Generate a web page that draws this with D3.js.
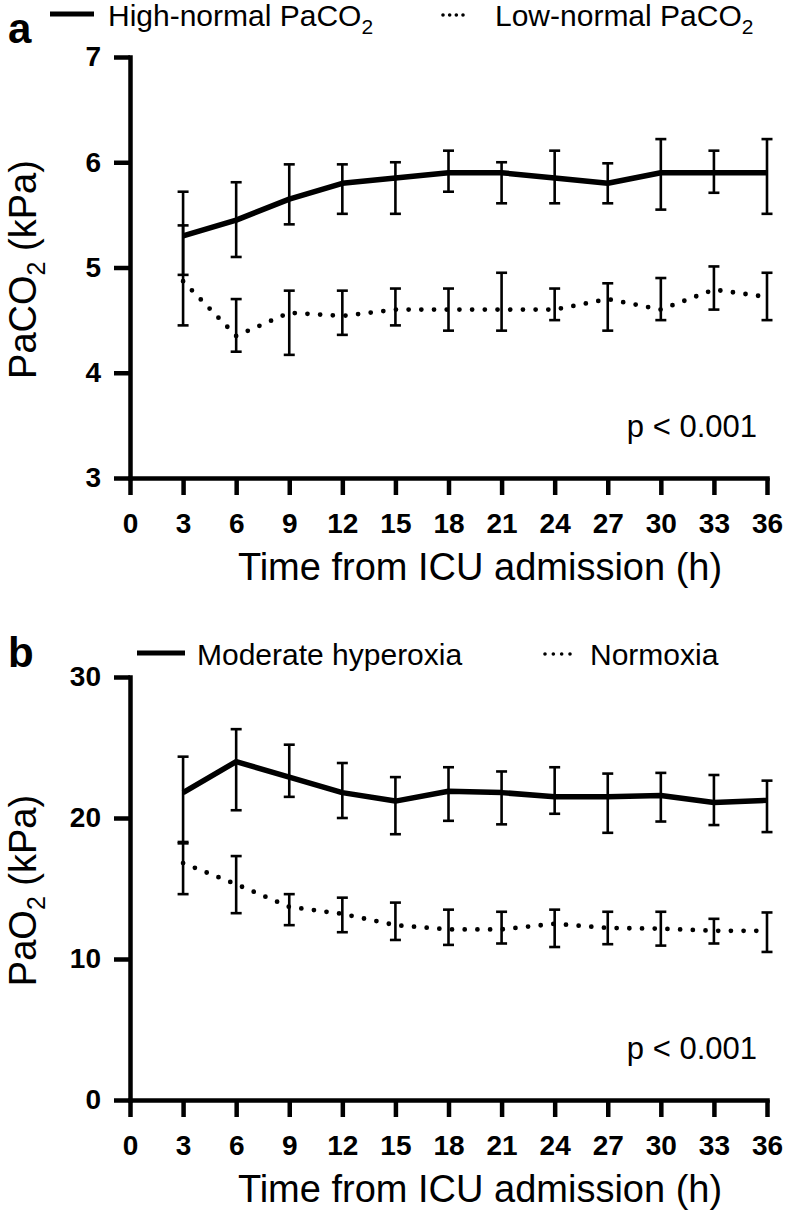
<!DOCTYPE html>
<html>
<head>
<meta charset="utf-8">
<script src="https://cdn.jsdelivr.net/npm/d3@7"></script>
<style>
  html, body { margin: 0; padding: 0; background: #fff; }
  svg { display: block; }
  text { font-family: "Liberation Sans", Arial, Helvetica, sans-serif; fill: #000; }
</style>
</head>
<body>
<svg id="chart" width="790" height="1215"></svg>
<script>
// ---------- data ----------
const hours = [3, 6, 9, 12, 15, 18, 21, 24, 27, 30, 33, 36];
const xTicks = [0, 3, 6, 9, 12, 15, 18, 21, 24, 27, 30, 33, 36];

// Panel a: PaCO2 (kPa)
const aTicks = [3, 4, 5, 6, 7];
const highNormalMean  = [5.30, 5.45, 5.65, 5.80, 5.85, 5.90, 5.90, 5.85, 5.80, 5.90, 5.90, 5.90];
const highNormalLow   = [4.93, 5.10, 5.41, 5.51, 5.51, 5.72, 5.61, 5.61, 5.61, 5.55, 5.71, 5.51];
const highNormalHigh  = [5.72, 5.81, 5.98, 5.98, 6.00, 6.11, 6.00, 6.11, 5.99, 6.22, 6.11, 6.22];
const lowNormalMean   = [4.87, 4.35, 4.57, 4.54, 4.60, 4.60, 4.60, 4.60, 4.70, 4.60, 4.79, 4.72];
const lowNormalLow    = [4.45, 4.20, 4.17, 4.36, 4.45, 4.40, 4.40, 4.50, 4.40, 4.50, 4.60, 4.50];
const lowNormalHigh   = [5.40, 4.70, 4.78, 4.78, 4.80, 4.80, 4.95, 4.80, 4.85, 4.90, 5.01, 4.95];

// Panel b: PaO2 (kPa)
const bTicks = [0, 10, 20, 30];
const hyperoxiaMean = [21.8, 24.0, 22.9, 21.8, 21.2, 21.9, 21.8, 21.5, 21.5, 21.6, 21.1, 21.25];
const hyperoxiaLow  = [18.3, 20.55, 21.5, 20.0, 18.85, 19.8, 19.55, 20.3, 18.95, 19.75, 19.5, 19.0];
const hyperoxiaHigh = [24.35, 26.3, 25.2, 23.9, 22.9, 23.6, 23.3, 23.6, 23.15, 23.2, 23.05, 22.65];
const normoxiaMean  = [16.8, 15.3, 13.7, 13.2, 12.4, 12.1, 12.1, 12.5, 12.2, 12.15, 12.0, 12.0];
const normoxiaLow   = [14.6, 13.25, 12.4, 11.9, 11.35, 11.0, 11.1, 10.85, 11.05, 10.95, 11.1, 10.5];
const normoxiaHigh  = [18.2, 17.3, 14.6, 14.35, 14.0, 13.5, 13.35, 13.5, 13.35, 13.35, 12.85, 13.3];

// ---------- drawing ----------
const svg = d3.select("#chart");
svg.append("rect").attr("width", 790).attr("height", 1215).attr("fill", "#fff");

function series(mean, lo, hi) {
  return hours.map((h, i) => ({ h, m: mean[i], lo: lo[i], hi: hi[i] }));
}

function drawPanel(cfg) {
  const g = svg.append("g");
  const x = d3.scaleLinear().domain([0, 36]).range([130, 767]);
  const y = d3.scaleLinear().domain(cfg.domain).range([cfg.bottom, cfg.top]);

  // axes
  const xAxis = g.append("g").attr("transform", `translate(0,${cfg.bottom})`)
    .call(d3.axisBottom(x).tickValues(xTicks).tickFormat(d3.format("d"))
      .tickSize(17).tickSizeOuter(0).tickPadding(18));
  const yAxis = g.append("g").attr("transform", `translate(130,0)`)
    .call(d3.axisLeft(y).tickValues(cfg.ticks).tickFormat(d3.format("d"))
      .tickSize(16).tickSizeOuter(0).tickPadding(13));
  [xAxis, yAxis].forEach(ax => {
    ax.select(".domain").attr("stroke", "#000").attr("stroke-width", 4.5).attr("stroke-linecap", "square");
    ax.selectAll(".tick line").attr("stroke", "#000").attr("stroke-width", 4.5);
    ax.selectAll(".tick text")
      .style("font-family", '"Liberation Sans", Arial, sans-serif')
      .style("font-size", "28px").style("font-weight", "bold").attr("fill", "#000");
  });

  // x label
  g.append("text").attr("x", 480).attr("y", cfg.bottom + 102)
    .attr("text-anchor", "middle").style("font-size", "38px")
    .text("Time from ICU admission (h)");

  // y label (rotated)
  const yl = g.append("text")
    .attr("transform", `translate(36,${(cfg.top + cfg.bottom) / 2 + 2}) rotate(-90)`)
    .attr("text-anchor", "middle").style("font-size", "38px");
  yl.append("tspan").text(cfg.yLabelA);
  yl.append("tspan").attr("dy", 9).style("font-size", "25px").text("2");
  yl.append("tspan").attr("dy", -9).text(" (kPa)");

  // p-value
  g.append("text").attr("x", 757).attr("y", cfg.bottom - 41)
    .attr("text-anchor", "end").style("font-size", "31px").text("p < 0.001");

  const line = d3.line().x(d => x(d.h)).y(d => y(d.m));

  function drawSeries(data, dotted) {
    const eb = g.append("g").attr("stroke", "#000").attr("stroke-width", 2.6).attr("fill", "none");
    data.forEach(d => {
      eb.append("line").attr("x1", x(d.h)).attr("x2", x(d.h)).attr("y1", y(d.lo)).attr("y2", y(d.hi));
      eb.append("line").attr("x1", x(d.h) - 5.5).attr("x2", x(d.h) + 5.5).attr("y1", y(d.lo)).attr("y2", y(d.lo));
      eb.append("line").attr("x1", x(d.h) - 5.5).attr("x2", x(d.h) + 5.5).attr("y1", y(d.hi)).attr("y2", y(d.hi));
    });
    const p = g.append("path").datum(data).attr("d", line).attr("fill", "none").attr("stroke", "#000");
    if (dotted) {
      p.attr("stroke-width", 4.8).attr("stroke-linecap", "round").attr("stroke-dasharray", "0 12.7");
    } else {
      p.attr("stroke-width", 5.5).attr("stroke-linejoin", "round");
    }
  }
  drawSeries(cfg.solid, false);
  drawSeries(cfg.dotted, true);

  // panel letter
  g.append("text").attr("x", 8).attr("y", cfg.letterY).style("font-size", "42px")
    .style("font-weight", "bold").text(cfg.letter);

  // legend
  const lg = g.append("g");
  lg.append("line").attr("x1", cfg.leg.s1).attr("x2", cfg.leg.s2)
    .attr("y1", cfg.leg.y).attr("y2", cfg.leg.y).attr("stroke", "#000").attr("stroke-width", 5);
  const t1 = lg.append("text").attr("x", cfg.leg.t1).attr("y", cfg.leg.y + 12).style("font-size", "30px");
  cfg.leg.label1.forEach(part => {
    if (part.sub) t1.append("tspan").attr("dy", 8).style("font-size", "21px").text(part.text);
    else t1.append("tspan").text(part.text);
  });
  lg.append("line").attr("x1", cfg.leg.d1).attr("x2", cfg.leg.d2)
    .attr("y1", cfg.leg.y + 1).attr("y2", cfg.leg.y + 1).attr("stroke", "#000").attr("stroke-width", 3.6)
    .attr("stroke-linecap", "round").attr("stroke-dasharray", "0 " + ((cfg.leg.d2 - cfg.leg.d1) / 3));
  const t2 = lg.append("text").attr("x", cfg.leg.t2).attr("y", cfg.leg.y + 12).style("font-size", "30px");
  cfg.leg.label2.forEach(part => {
    if (part.sub) t2.append("tspan").attr("dy", 8).style("font-size", "21px").text(part.text);
    else t2.append("tspan").text(part.text);
  });
}

drawPanel({
  domain: [3, 7], ticks: aTicks, top: 57, bottom: 478,
  yLabelA: "PaCO",
  solid: series(highNormalMean, highNormalLow, highNormalHigh),
  dotted: series(lowNormalMean, lowNormalLow, lowNormalHigh),
  letter: "a", letterY: 43,
  leg: { y: 14, s1: 50, s2: 94, t1: 108, d1: 443, d2: 463, t2: 495,
         label1: [{ text: "High-normal PaCO" }, { text: "2", sub: true }],
         label2: [{ text: "Low-normal PaCO" }, { text: "2", sub: true }] }
});

drawPanel({
  domain: [0, 30], ticks: bTicks, top: 677, bottom: 1100,
  yLabelA: "PaO",
  solid: series(hyperoxiaMean, hyperoxiaLow, hyperoxiaHigh),
  dotted: series(normoxiaMean, normoxiaLow, normoxiaHigh),
  letter: "b", letterY: 667,
  leg: { y: 653, s1: 137, s2: 185, t1: 197, d1: 545, d2: 570, t2: 590,
         label1: [{ text: "Moderate hyperoxia" }],
         label2: [{ text: "Normoxia" }] }
});
</script>
</body>
</html>
